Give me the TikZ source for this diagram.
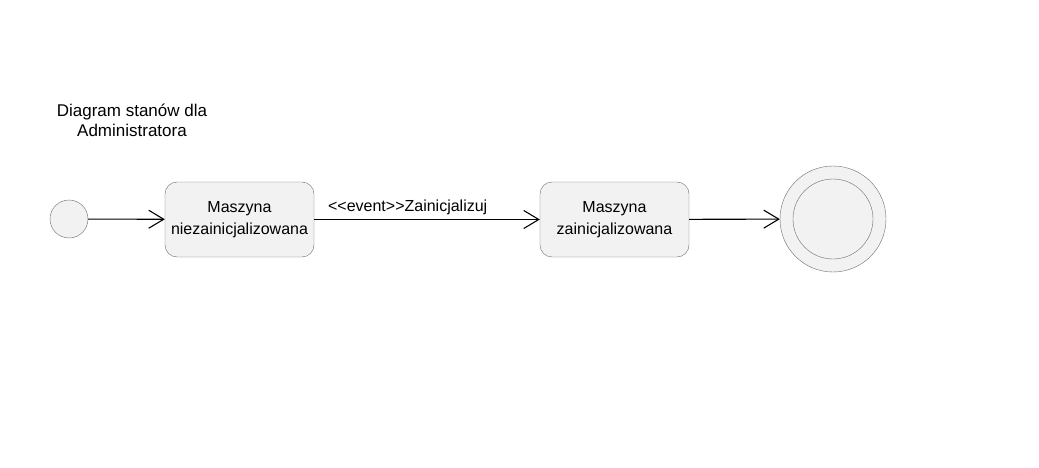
\documentclass[tikz,border=0pt]{standalone}
\usepackage{fontspec}
\setmainfont{Liberation Sans}
\usetikzlibrary{positioning,arrows.meta}
\definecolor{stateline}{RGB}{110,110,110}
\definecolor{statefill}{RGB}{242,242,242}

\begin{document}
\begin{tikzpicture}[x=1pt, y=-1pt,
    every node/.style={font=\fontsize{16}{21.5}\selectfont},
    state/.style={draw=stateline, fill=statefill, rounded corners=12pt,
      minimum width=149pt, minimum height=75pt, align=center, inner sep=2pt},
    initstate/.style={circle, draw=stateline, fill=statefill, minimum size=38pt, inner sep=0pt},
    finalstate/.style={circle, draw=stateline, fill=statefill, minimum size=106pt, inner sep=0pt},
    finalinner/.style={circle, draw=stateline, fill=statefill, minimum size=80pt, inner sep=0pt},
    trans/.style={-{Straight Barb[length=15pt, width=18pt]}, line width=1.1pt}]
  \useasboundingbox[fill=white] (0,0) rectangle (1039,468);

  \node[align=center, font=\fontsize{17}{20}\selectfont] (title) at (132,120) {Diagram stanów dla\\Administratora};

  \node[initstate] (start) at (69,219) {};
  \node[state] (niezainit) at (239.5,219.5) {Maszyna\\niezainicjalizowana};
  \node[state] (zainit) at (614.5,219.5) {Maszyna\\zainicjalizowana};
  \node[finalstate] (end) at (833,219) {};
  \node[finalinner] (endin) at (end) {};

  \draw[trans] (start) -- (niezainit);
  \draw[trans] (niezainit) -- node[pos=0, anchor=south west, xshift=10pt, yshift=1pt] (evlabel) {<{}<event>{}>Zainicjalizuj} (zainit);
  \draw[trans] (zainit) -- (end);
\end{tikzpicture}
\end{document}
